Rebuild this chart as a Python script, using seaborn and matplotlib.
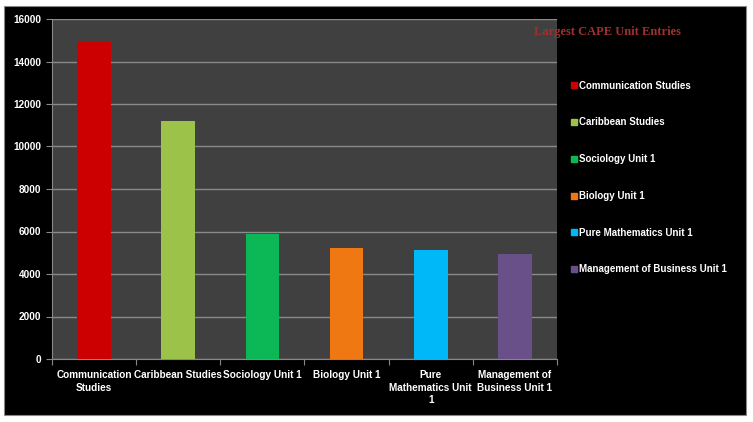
import matplotlib
matplotlib.use("Agg")
import matplotlib.pyplot as plt
import seaborn as sns
import pandas as pd
from matplotlib.patches import Rectangle
from matplotlib.lines import Line2D

categories = ["Communication Studies", "Caribbean Studies", "Sociology Unit 1",
              "Biology Unit 1", "Pure Mathematics Unit 1", "Management of Business Unit 1"]
tick_labels = ["Communication\nStudies", "Caribbean Studies", "Sociology Unit 1",
               "Biology Unit 1", "Pure\nMathematics Unit\n1", "Management of\nBusiness Unit 1"]
values = [14900, 11200, 5870, 5210, 5110, 4950]
colors = ["#CC0000", "#9CC24A", "#0BB855", "#F07812", "#00B8F8", "#6A5088"]

sns.set_theme(style="dark")
plt.rcParams['font.family'] = ['Liberation Sans', 'DejaVu Sans']

fig = plt.figure(figsize=(7.53, 4.22), dpi=100)
fig.patch.set_facecolor("white")
bg = Rectangle((4/753, 1-415/422), 742/753, 409/422,
               transform=fig.transFigure, facecolor="black",
               edgecolor="#888888", linewidth=0.8, zorder=-10)
fig.patches.append(bg)

ax = fig.add_axes([52/753, 1-359/422, 505/753, 340/422])
ax.set_zorder(1)
ax.set_facecolor("#404040")

df = pd.DataFrame({"category": categories, "value": values})
sns.barplot(data=df, x="category", y="value", hue="category", palette=colors,
            width=0.4, saturation=1, legend=False, ax=ax, edgecolor="none", zorder=3)

ax.set_ylim(0, 16000)
ax.set_yticks(range(0, 16001, 2000))
ax.set_xlim(-0.5, len(categories) - 0.5)
ax.yaxis.grid(True, color="#8a8a8a", linewidth=1.0, zorder=0)
ax.xaxis.grid(False)
ax.set_axisbelow(True)
ax.set_xlabel("")
ax.set_ylabel("")

ax.set_xticks(range(len(categories)))
ax.set_xticklabels(tick_labels, color="white", fontsize=7.2, fontweight="bold",
                   linespacing=1.3)
ax.tick_params(axis="x", length=0, pad=8)
ax.tick_params(axis="y", colors="white", labelsize=7.2, length=4, width=0.8,
               color="#888888", left=True)
for lbl in ax.get_yticklabels():
    lbl.set_fontweight("bold")

ax.set_xticks([i - 0.5 for i in range(len(categories) + 1)], minor=True)
ax.tick_params(axis="x", which="minor", length=4, color="#888888", width=0.8, bottom=True)

for s in ["top", "right"]:
    ax.spines[s].set_visible(False)
for s in ["left", "bottom"]:
    ax.spines[s].set_color("#888888")
    ax.spines[s].set_linewidth(0.8)

fig.text(607/753, 1-32/422, "Largest CAPE Unit Entries", color="#A03030",
         fontsize=9, fontweight="bold", family=["Liberation Serif", "DejaVu Serif"],
         ha="center", va="center", zorder=5)

handles = [Line2D([0], [0], marker="s", linestyle="none", markersize=4.5,
                  markerfacecolor=c, markeredgecolor=c) for c in colors]
leg = fig.legend(handles, categories, loc="upper left",
                 bbox_to_anchor=(560/753, 1-72/422), frameon=False,
                 labelspacing=2.75, handletextpad=0.1, handlelength=1.0,
                 prop={"size": 7.0, "weight": "bold", "family": "Liberation Sans"})
for t in leg.get_texts():
    t.set_color("white")

fig.savefig("out.png", dpi=100, facecolor=fig.get_facecolor())
